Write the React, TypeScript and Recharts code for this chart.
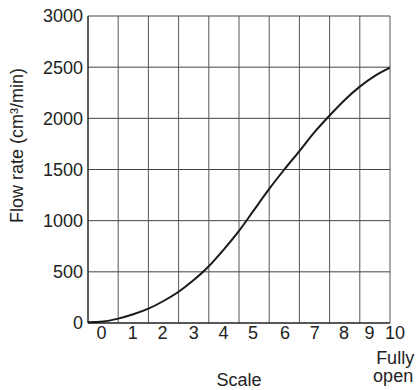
import React from 'react';
import {
  LineChart,
  Line,
  XAxis,
  YAxis,
  CartesianGrid,
  ReferenceLine,
} from 'recharts';

// valve scale position vs flow rate
const scalePos = [0, 0.5, 1, 1.5, 2, 2.5, 3, 3.5, 4, 4.5, 5, 5.5, 6, 6.5, 7, 7.5, 8, 8.5, 9, 9.5, 10];
const flowRate = [8, 15, 43, 85, 140, 215, 305, 420, 555, 720, 900, 1105, 1310, 1500, 1680, 1865, 2028, 2180, 2310, 2415, 2495];

const gridX = [0, 1, 2, 3, 4, 5, 6, 7, 8, 9, 10];
const yTicks = [0, 500, 1000, 1500, 2000, 2500, 3000];
const tickLabels = ['0', '1', '2', '3', '4', '5', '6', '7', '8', '9', '10'];
const tickPos = [0.45, 1.48, 2.47, 3.5, 4.49, 5.46, 6.52, 7.51, 8.48, 9.32, 10.17];

const FONT = "'Liberation Sans', Arial, Helvetica, sans-serif";
const NARROW = "'Liberation Sans Narrow', 'Arial Narrow', 'Liberation Sans', sans-serif";

const data = scalePos.map((pos, i) => ({ pos, flow: flowRate[i] }));

const XTick = ({ x, y, payload, index }: any) => {
  const idx = tickPos.indexOf(payload.value);
  const label = tickLabels[idx >= 0 ? idx : index];
  const last = label === '10';
  return (
    <g>
      <text x={x} y={y} dy={13} textAnchor="middle" fontSize={18} fontFamily={FONT} fill="#222">
        {label}
      </text>
      {last && (
        <text x={x} y={y} textAnchor="middle" fontSize={18} fontFamily={FONT} fill="#222">
          <tspan x={x} dy={38}>Fully</tspan>
          <tspan x={x - 2} dy={18}>open</tspan>
        </text>
      )}
    </g>
  );
};

const YLabel = ({ viewBox }: any) => {
  const cx = viewBox.x + 17;
  const cy = viewBox.y + viewBox.height / 2 - 24;
  return (
    <text
      x={cx}
      y={cy}
      transform={`rotate(-90, ${cx}, ${cy})`}
      textAnchor="middle"
      dominantBaseline="central"
      fontSize={18}
      fontFamily={FONT}
      fill="#222"
    >
      Flow rate (cm³/min)
    </text>
  );
};

const XLabel = ({ viewBox }: any) => (
  <text
    x={viewBox.x + viewBox.width / 2}
    y={viewBox.y + 63}
    textAnchor="middle"
    fontSize={18}
    fontFamily={FONT}
    fill="#222"
  >
    Scale
  </text>
);

export default function App() {
  return (
    <div style={{ position: 'absolute', left: 0, top: 0, width: 417, height: 390, background: '#fff' }}>
      <LineChart width={417} height={390} data={data} margin={{ top: 16, right: 27, left: 0, bottom: 0 }}>
        <CartesianGrid vertical={false} stroke="#444" strokeWidth={1} />
        {gridX.map((v) => (
          <ReferenceLine key={v} x={v} stroke="#555" strokeWidth={1} />
        ))}
        <XAxis
          dataKey="pos"
          type="number"
          domain={[0, 10]}
          ticks={tickPos}
          interval={0}
          allowDataOverflow
          height={67}
          tickLine={false}
          tickSize={1}
          tickMargin={2}
          axisLine={{ stroke: '#111' }}
          tick={<XTick />}
          label={<XLabel />}
        />
        <YAxis
          type="number"
          domain={[0, 3000]}
          ticks={yTicks}
          interval={0}
          width={88}
          tickLine={false}
          tickSize={3}
          tickMargin={2}
          axisLine={{ stroke: '#111' }}
          tick={{ fontSize: 18, fontFamily: NARROW, fill: '#222' }}
          label={<YLabel />}
        />
        <Line
          type="monotone"
          dataKey="flow"
          stroke="#1a1a1a"
          strokeWidth={2}
          dot={false}
          isAnimationActive={false}
        />
      </LineChart>
    </div>
  );
}
